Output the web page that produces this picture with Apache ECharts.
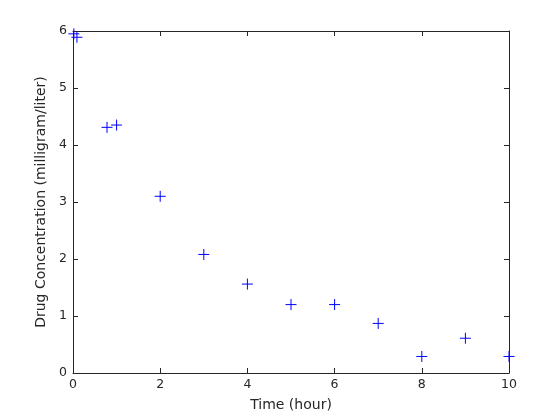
<!DOCTYPE html>
<html><head><meta charset="utf-8">
<script src="https://cdn.jsdelivr.net/npm/echarts@6/dist/echarts.min.js"></script>
<style>html,body{margin:0;padding:0;background:#fff}#c{width:560px;height:420px}</style>
</head><body><div id="c"></div>
<script>
const timeHours = [0.02, 0.09, 0.78, 1.0, 2, 3, 4, 5, 6, 7, 8, 9, 10];
const concentration = [5.95, 5.89, 4.31, 4.35, 3.1, 2.08, 1.56, 1.2, 1.2, 0.87, 0.29, 0.61, 0.29];
const xTicks = [0, 2, 4, 6, 8, 10];
const yTicks = [0, 1, 2, 3, 4, 5, 6];

const axisColor = '#262626';
const font = 'DejaVu Sans';
const points = timeHours.map((t, i) => [t, concentration[i]]);

function axisCommon(show) {
  return {
    axisLine: {show: true, onZero: false, lineStyle: {color: axisColor, width: 1}},
    axisTick: {show: true, inside: true, length: 5, lineStyle: {color: axisColor}},
    axisLabel: {show: show, color: axisColor, fontFamily: font, fontSize: 12.5},
    splitLine: {show: false}
  };
}

const chart = echarts.init(document.getElementById('c'), null, {renderer: 'canvas'});
chart.setOption({
  animation: false,
  backgroundColor: '#fff',
  grid: {left: 73, right: 51, top: 31, bottom: 47, containLabel: false},
  xAxis: [
    Object.assign({type: 'value', min: xTicks[0], max: xTicks[xTicks.length-1], interval: 2, position: 'bottom',
      name: 'Time (hour)', nameLocation: 'middle', nameGap: 25,
      nameTextStyle: {color: axisColor, fontFamily: font, fontSize: 14}}, axisCommon(true),
      {axisLabel: {color: axisColor, fontFamily: font, fontSize: 12.5, margin: 5}}),
    Object.assign({type: 'value', min: 0, max: 10, interval: 2, position: 'top'}, axisCommon(false))
  ],
  yAxis: [
    Object.assign({type: 'value', min: yTicks[0], max: yTicks[yTicks.length-1], interval: 1, position: 'left',
      name: 'Drug Concentration (milligram/liter)', nameLocation: 'middle', nameGap: 18,
      nameTextStyle: {color: axisColor, fontFamily: font, fontSize: 14}}, axisCommon(true),
      {axisLabel: {color: axisColor, fontFamily: font, fontSize: 12.5, margin: 6}}),
    Object.assign({type: 'value', min: 0, max: 6, interval: 1, position: 'right'}, axisCommon(false))
  ],
  series: [{
    type: 'scatter',
    data: points,
    symbol: 'path://M5,0L5,10M0,5L10,5',
    symbolSize: 11,
    itemStyle: {color: 'rgba(0,0,0,0)', borderColor: '#0000ff', borderWidth: 1, opacity: 1},
    clip: false
  }]
});
</script></body></html>
